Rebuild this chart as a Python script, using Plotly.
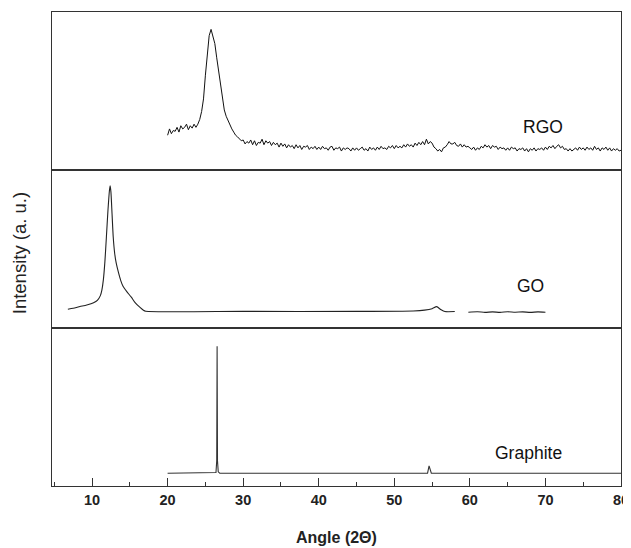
import plotly.graph_objects as go
from plotly.subplots import make_subplots

# ---------------- data (arbitrary intensity units 0-100 per panel)
rgo_x = [20 + 0.25 * i for i in range(241)]
rgo_y = [
    22, 26, 23, 25, 24.5, 27, 24, 28, 26, 27, 29, 25.5, 28, 26.5, 29, 27, 29, 32, 37, 45,
    60, 75, 85, 89, 84, 80, 71, 62, 53, 45, 38, 34, 31, 28, 26, 24, 22, 21, 20, 18.5,
    19, 16.5, 18, 17, 19, 16, 18.5, 15.5, 17.5, 17, 19.5, 16, 18.5, 17, 18, 15.5, 17.5, 16, 17, 14.5,
    17, 15, 16.5, 14, 16, 14.5, 15.5, 13.5, 16, 14, 15.5, 13, 15, 14.5, 15.5, 13, 14.5, 13.5, 15, 13,
    14.5, 13, 15, 13.5, 14, 12.5, 14.5, 15, 12.5, 14, 13.5, 14.5, 12, 14, 13, 14, 13.5, 12, 14, 12.5,
    14, 12.5, 13.5, 14.5, 12.5, 13.5, 12, 14.5, 13, 14, 12.5, 14.5, 13, 15, 13.5, 14, 13, 15, 14, 15.5,
    13.5, 15.5, 14, 15, 14, 16, 14.5, 16.5, 15, 16, 14.5, 17, 15.5, 17.5, 16, 18, 16, 19.5, 16.5, 18,
    17, 14.5, 13.5, 12, 13, 11.5, 14, 14.5, 16, 18, 16.5, 16.5, 17.5, 15.5, 15, 16.5, 14.5, 16, 14.5, 15,
    14, 13, 14.5, 12.5, 14, 13, 15, 14, 16, 14.5, 15.5, 13.5, 15.5, 14.5, 15, 13, 14.5, 13.5, 14, 12.5,
    14, 12.5, 14.5, 13.5, 14, 12, 13.5, 13, 14, 12, 13.5, 11.5, 13.5, 12.5, 14, 12, 13.5, 13, 14, 12.5,
    14.5, 13, 15, 14, 15.5, 13.5, 15, 16, 14, 15, 13, 13.5, 12, 13.5, 12, 13, 14, 12.5, 14.5, 13,
    14, 12.5, 14.5, 13, 14, 12.5, 15, 13, 14, 12, 14, 13, 14.5, 12.5, 14, 12, 13.5, 12.5, 13.5, 12,
    12.5,
]

go_x = [6.8, 7.5, 8.4, 9.3, 10.2, 10.7, 11.1, 11.3, 11.5, 11.7, 11.9, 12.1, 12.3, 12.4, 12.5,
        12.65, 12.8, 13.0, 13.2, 13.5, 13.8, 14.1, 14.6, 15.2, 15.7, 16.35, 16.8, 17.1,
        30.0, 45.0, 52.5, 54.0, 55.0, 55.6, 56.2, 56.7, 58.0, None,
        59.8, 61.0, 62.0, 63.0, 64.0, 65.0, 66.0, 67.0, 68.0, 69.0, 70.0]
go_y = [11.9, 12.5, 13.6, 14.6, 16.0, 17.5, 20.5, 24.0, 30.6, 42.0, 57.7, 74.0, 87.0, 90.0, 86.0,
        72.0, 57.7, 47.0, 41.0, 35.0, 30.0, 26.4, 23.0, 19.5, 16.0, 13.0, 11.2, 10.6,
        10.5, 10.5, 10.8, 11.3, 12.2, 13.5, 11.5, 10.4, 10.4, None,
        10.0, 10.3, 9.9, 10.2, 9.9, 10.3, 10.0, 10.2, 9.9, 10.2, 10.0]

gr_x = [20.0, 26.2, 26.4, 26.5, 26.55, 26.6, 26.7, 26.9, 54.4, 54.6, 54.7, 54.9, 80.0]
gr_y = [8.1, 8.1, 8.5, 16.0, 88.5, 16.0, 9.0, 8.1, 8.1, 12.7, 11.0, 8.1, 8.1]

labels = ["RGO", "GO", "Graphite"]
label_x = [69.7, 68.0, 67.8]
label_y = [27.4, 26.9, 21.0]

x_ticks = [10, 20, 30, 40, 50, 60, 70, 80]

# ---------------- figure
fig = make_subplots(rows=3, cols=1, shared_xaxes=True, vertical_spacing=0)

axis_col = "#333333"
fig.add_trace(go.Scatter(x=rgo_x, y=rgo_y, mode="lines",
                         line=dict(color="#111111", width=1.0)), row=1, col=1)
fig.add_trace(go.Scatter(x=go_x, y=go_y, mode="lines", connectgaps=False,
                         line=dict(color="#222222", width=1.1, shape="spline", smoothing=0.6)), row=2, col=1)
fig.add_trace(go.Scatter(x=gr_x, y=gr_y, mode="lines",
                         line=dict(color="#333333", width=1.1)), row=3, col=1)

for i, (t, lx, ly) in enumerate(zip(labels, label_x, label_y)):
    fig.add_annotation(text=t, x=lx, y=ly, xref=f"x{i+1 if i else ''}", yref=f"y{i+1 if i else ''}",
                       showarrow=False, font=dict(family="Liberation Sans, Arial", size=17.5, color="#111111"))

for r in (1, 2, 3):
    fig.update_xaxes(range=[4.7, 80], showline=True, mirror=True, linecolor=axis_col, linewidth=1.4,
                     showgrid=False, zeroline=False, row=r, col=1)
    fig.update_yaxes(range=[0, 100], showline=True, mirror=True, linecolor=axis_col, linewidth=1.4,
                     showgrid=False, zeroline=False, showticklabels=False, ticks="", row=r, col=1)

fig.update_xaxes(row=3, col=1, tickmode="array", tickvals=x_ticks, ticktext=[str(v) for v in x_ticks],
                 ticks="inside", ticklen=8, tickwidth=1.4, tickcolor=axis_col,
                 minor=dict(dtick=5, ticks="inside", ticklen=4, tickwidth=1.2, tickcolor=axis_col),
                 tickfont=dict(family="Liberation Sans Narrow, Arial Narrow, Liberation Sans", size=14.5,
                               color="#222222", weight="bold"))
fig.update_xaxes(row=1, col=1, showticklabels=False, ticks="")
fig.update_xaxes(row=2, col=1, showticklabels=False, ticks="")

fig.add_annotation(text="Angle (2\u0398)", xref="paper", yref="paper", x=0.5, y=-0.108,
                   showarrow=False, yanchor="middle",
                   font=dict(family="Liberation Sans Narrow, Arial Narrow, Liberation Sans", size=16,
                             color="#222222", weight="bold"))
fig.add_annotation(text="Intensity (a. u.)", xref="paper", yref="paper", x=-0.0571, y=0.49,
                   showarrow=False, textangle=-90, xanchor="center", yanchor="middle",
                   font=dict(family="Liberation Sans, Arial", size=18.5, color="#222222"))

# page body has an 8px default margin; offset the figure so the plot sits where the reference has it
fig.update_layout(width=631, height=540, margin=dict(l=44, r=18, t=4, b=62),
                  plot_bgcolor="white", paper_bgcolor="white", showlegend=False)

fig.write_html("out.html")
